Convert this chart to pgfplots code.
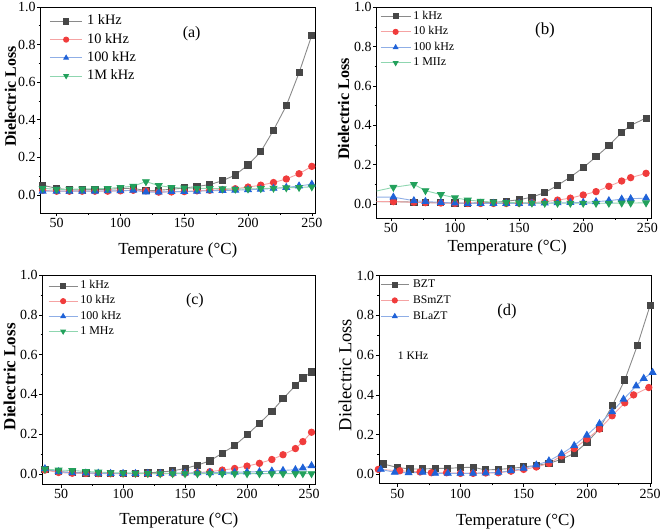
\documentclass[border=0pt]{standalone}
\usepackage{fontspec}
\setmainfont{Liberation Serif}
\usepackage{pgfplots}
\pgfplotsset{compat=1.18}

\definecolor{cK}{HTML}{474747}\definecolor{cKl}{HTML}{8A8A8A}
\definecolor{cR}{HTML}{F03C3C}\definecolor{cRl}{HTML}{F5A3A3}
\definecolor{cB}{HTML}{1F62D8}\definecolor{cBl}{HTML}{8FAEE6}
\definecolor{cG}{HTML}{23A15C}\definecolor{cGl}{HTML}{8FD6B0}

\pgfplotsset{
  panel/.style={
    scale only axis, anchor=north west,
    axis line style={black, line width=0.8bp},
    tick style={black, line width=0.6bp},
    tick align=outside, major tick length=3.5bp, minor tick length=2bp,
    xtick pos=bottom, ytick pos=left,
    minor x tick num=1, minor y tick num=1,
    ytick={0,0.2,0.4,0.6,0.8,1.0}, xtick={50,100,150,200,250},
    ymax=1.0,
    yticklabel style={/pgf/number format/fixed, /pgf/number format/fixed zerofill, /pgf/number format/precision=1, inner sep=1.5bp},
    xticklabel style={inner sep=2bp},
    /pgf/number format/assume math mode=true,
    ticklabel style={font=\fontsize{14}{14}\selectfont},
    xlabel style={font=\fontsize{17}{17}\selectfont, at={(axis description cs:0.5,0)}, anchor=center},
    ylabel style={anchor=center},
    legend cell align=left,
  },
  lg/.style n args={4}{% font size, row sep, sample length, gap
    legend style={draw=none, fill=none, inner xsep=0pt, inner ysep=0pt,
      font=\fontsize{#1}{#1}\selectfont, row sep=#2,
      nodes={inner sep=0pt, font=\fontsize{#1}{#1}\selectfont,
        text height={\dimexpr #1bp*72/100\relax}, text depth={\dimexpr #1bp*25/100\relax}},
      /tikz/every odd column/.append style={column sep=#4}},
    legend image code/.code={\draw[mark repeat=2, mark phase=2, mark size=2.6bp] plot coordinates {(0bp,0bp) (#3/2,0bp) (#3,0bp)};}
  },
  sK/.style={color=cKl, line width=0.9bp, mark=square*, mark size=3.1bp, mark options={draw=cK, fill=cK, solid}},
  sR/.style={color=cRl, line width=0.9bp, mark=*, mark size=3.2bp, mark options={draw=cR, fill=cR, solid}},
  sB/.style={color=cBl, line width=0.9bp, mark=triangle*, mark size=3.8bp, mark options={draw=cB, fill=cB, solid}},
  sG/.style={color=cGl, line width=0.9bp, mark=triangle*, mark size=3.8bp, mark options={draw=cG, fill=cG, solid, rotate=180}},
}

\begin{document}
\begin{tikzpicture}
\path[use as bounding box] (0,0) rectangle (661bp,530bp);

% ---------------- (a)
\begin{axis}[panel, at={(40.7bp,523bp)}, width=274.3bp, height=206bp,
  xmin=37.5, xmax=252.5, ymin=-0.096,
  xlabel={Temperature (°C)}, xlabel style={yshift=-37bp},
  ylabel={Dielectric Loss},
  ylabel style={font=\fontsize{16}{16}\selectfont\bfseries, at={([xshift=-30.2bp]axis description cs:0,0.5646)}},
  lg={14.4}{4.2bp}{32.4bp}{4.3bp},
  legend style={at={(axis description cs:0,1)}, anchor=north west, xshift=8.6bp, yshift=-7.3bp}]
\addplot[sK] coordinates {(39,0.052)(50,0.035)(60,0.027)(70,0.027)(80,0.030)(90,0.030)(100,0.034)(110,0.036)(120,0.022)(130,0.025)(140,0.030)(150,0.037)(160,0.045)(170,0.055)(180,0.076)(190,0.106)(200,0.160)(210,0.230)(220,0.345)(230,0.475)(240,0.650)(250,0.850)};
\addplot[sR] coordinates {(39,0.025)(50,0.020)(60,0.020)(70,0.020)(80,0.020)(90,0.020)(100,0.022)(110,0.025)(120,0.022)(130,0.015)(140,0.016)(150,0.018)(160,0.022)(170,0.025)(180,0.028)(190,0.033)(200,0.042)(210,0.052)(220,0.066)(230,0.085)(240,0.113)(250,0.152)};
\addplot[sB] coordinates {(39,0.020)(50,0.020)(60,0.020)(70,0.020)(80,0.020)(90,0.022)(100,0.022)(110,0.025)(120,0.015)(130,0.015)(140,0.018)(150,0.018)(160,0.020)(170,0.022)(180,0.024)(190,0.025)(200,0.028)(210,0.030)(220,0.035)(230,0.040)(240,0.048)(250,0.057)};
\addplot[sG] coordinates {(39,0.035)(50,0.030)(60,0.030)(70,0.032)(80,0.033)(90,0.035)(100,0.040)(110,0.047)(120,0.071)(130,0.050)(140,0.040)(150,0.037)(160,0.035)(170,0.035)(180,0.033)(190,0.031)(200,0.032)(210,0.034)(220,0.036)(230,0.038)(240,0.040)(250,0.043)};
\legend{1 kHz, 10 kHz, 100 kHz, 1M kHz}
\node[font=\fontsize{16}{16}\selectfont] at (rel axis cs:0.5505,0.872) {(a)};
\end{axis}

% ---------------- (b)
\begin{axis}[panel, at={(376.7bp,522.7bp)}, width=275bp, height=210.7bp,
  xmin=39, xmax=253.4, ymin=-0.071,
  xlabel={Temperature (°C)}, xlabel style={yshift=-29bp, xshift=-7bp},
  ylabel={Dielectric Loss},
  ylabel style={font=\fontsize{16.2}{16}\selectfont\bfseries, at={([xshift=-33bp]axis description cs:0,0.517)}},
  lg={12}{3.9bp}{30bp}{2.3bp},
  legend style={at={(axis description cs:0,1)}, anchor=north west, xshift=3.3bp, yshift=-3bp}]
\addplot[sK] coordinates {(36,0.012)(52,0.012)(68,0.010)(77,0.008)(89,0.006)(100,0.005)(110,0.005)(120,0.006)(130,0.008)(140,0.014)(150,0.022)(160,0.035)(170,0.058)(180,0.095)(190,0.137)(200,0.185)(210,0.240)(220,0.297)(230,0.364)(237,0.400)(249,0.437)};
\addplot[sR] coordinates {(36,0.013)(52,0.012)(68,0.009)(77,0.007)(89,0.005)(100,0.003)(110,0.003)(120,0.003)(130,0.003)(140,0.003)(150,0.004)(160,0.007)(170,0.012)(180,0.020)(190,0.030)(200,0.046)(210,0.063)(220,0.090)(230,0.117)(237,0.134)(249,0.156)};
\addplot[sB] coordinates {(36,0.035)(52,0.035)(68,0.017)(77,0.013)(89,0.008)(100,0.005)(110,0.003)(120,0.003)(130,0.003)(140,0.003)(150,0.003)(160,0.004)(170,0.005)(180,0.006)(190,0.007)(200,0.008)(210,0.012)(220,0.017)(230,0.025)(237,0.027)(249,0.030)};
\addplot[sG] coordinates {(36,0.062)(52,0.085)(68,0.100)(77,0.068)(89,0.048)(100,0.032)(110,0.020)(120,0.014)(130,0.010)(140,0.008)(150,0.006)(160,0.005)(170,0.004)(180,0.004)(190,0.004)(200,0.004)(210,0.004)(220,0.004)(230,0.005)(237,0.005)(249,0.006)};
\legend{1 kHz, 10 kHz, 100 kHz, 1 MIIz}
\node[font=\fontsize{17}{17}\selectfont] at (rel axis cs:0.612,0.892) {(b)};
\end{axis}

% ---------------- (c)
\begin{axis}[panel, at={(42.7bp,255bp)}, width=272.3bp, height=209bp,
  xmin=35.2, xmax=254.8, ymin=-0.05,
  xlabel={Temperature (°C)}, xlabel style={yshift=-36bp},
  ylabel={Dielectric Loss},
  ylabel style={font=\fontsize{17}{17}\selectfont\bfseries, at={([xshift=-33bp]axis description cs:0,0.513)}},
  lg={12}{3.5bp}{29bp}{2.3bp},
  legend style={at={(axis description cs:0,1)}, anchor=north west, xshift=5.3bp, yshift=-5bp}]
\addplot[sK] coordinates {(37,0.023)(48,0.012)(59,0.008)(70,0.006)(80,0.004)(90,0.003)(100,0.003)(110,0.004)(120,0.006)(130,0.010)(140,0.016)(150,0.028)(160,0.045)(170,0.066)(180,0.105)(190,0.143)(200,0.197)(210,0.255)(220,0.315)(229,0.378)(239,0.445)(245,0.483)(252,0.513)};
\addplot[sR] coordinates {(37,0.020)(48,0.008)(59,0.004)(70,0.003)(80,0.002)(90,0.002)(100,0.002)(110,0.002)(120,0.002)(130,0.002)(140,0.003)(150,0.004)(160,0.007)(170,0.012)(180,0.020)(190,0.028)(200,0.040)(210,0.054)(220,0.073)(229,0.097)(239,0.128)(245,0.163)(252,0.210)};
\addplot[sB] coordinates {(37,0.027)(48,0.012)(59,0.006)(70,0.005)(80,0.004)(90,0.003)(100,0.003)(110,0.003)(120,0.003)(130,0.003)(140,0.004)(150,0.005)(160,0.006)(170,0.007)(180,0.008)(190,0.009)(200,0.010)(210,0.012)(220,0.015)(229,0.018)(239,0.022)(245,0.030)(252,0.042)};
\addplot[sG] coordinates {(37,0.025)(48,0.020)(59,0.018)(70,0.013)(80,0.010)(90,0.007)(100,0.005)(110,0.004)(120,0.003)(130,0.002)(140,0.002)(150,0.002)(160,0.002)(170,0.002)(180,0.002)(190,0.002)(200,0.002)(210,0.002)(220,0.002)(229,0.002)(239,0.002)(245,0.002)(252,0.002)};
\legend{1 kHz, 10 kHz, 100 kHz, 1 MHz}
\node[font=\fontsize{16}{16}\selectfont] at (rel axis cs:0.559,0.876) {(c)};
\end{axis}

% ---------------- (d)
\begin{axis}[panel, at={(379.3bp,254.3bp)}, width=272.4bp, height=207.6bp,
  xmin=35.8, xmax=251.3, ymin=-0.045, clip=false,
  xlabel={Temperature (°C)}, xlabel style={yshift=-38bp},
  ylabel={Dielectric Loss},
  ylabel style={font=\fontsize{18.5}{18}\selectfont, at={([xshift=-34.3bp]axis description cs:0,0.5217)}},
  lg={11.7}{4.5bp}{27.7bp}{4bp},
  legend style={at={(axis description cs:0,1)}, anchor=north west, xshift=1bp, yshift=-3bp}]
\addplot[sK] coordinates {(39,0.052)(50,0.035)(60,0.027)(70,0.027)(80,0.030)(90,0.030)(100,0.034)(110,0.036)(120,0.022)(130,0.025)(140,0.030)(150,0.037)(160,0.045)(170,0.055)(180,0.076)(190,0.106)(200,0.160)(210,0.230)(220,0.345)(230,0.475)(240,0.650)(250,0.850)};
\addplot[sR] coordinates {(35,0.025)(52,0.018)(68,0.012)(77,0.008)(89,0.008)(100,0.005)(110,0.005)(120,0.007)(130,0.008)(140,0.016)(150,0.025)(160,0.037)(170,0.055)(180,0.093)(190,0.130)(200,0.178)(210,0.228)(220,0.295)(230,0.360)(237,0.400)(249,0.437)};
\addplot[sB] coordinates {(37,0.025)(48,0.010)(59,0.008)(70,0.010)(80,0.005)(90,0.005)(100,0.005)(110,0.005)(120,0.007)(130,0.010)(140,0.018)(150,0.030)(160,0.047)(170,0.068)(180,0.103)(190,0.145)(200,0.197)(210,0.255)(220,0.315)(229,0.378)(239,0.445)(245,0.483)(252,0.513)};
\legend{BZT, BSmZT, BLaZT}
\node[font=\fontsize{16.5}{16}\selectfont] at (rel axis cs:0.469,0.8285) {(d)};
\node[font=\fontsize{11.6}{12}\selectfont] at (rel axis cs:0.124,0.6166) {1 KHz};
\end{axis}
\end{tikzpicture}
\end{document}
